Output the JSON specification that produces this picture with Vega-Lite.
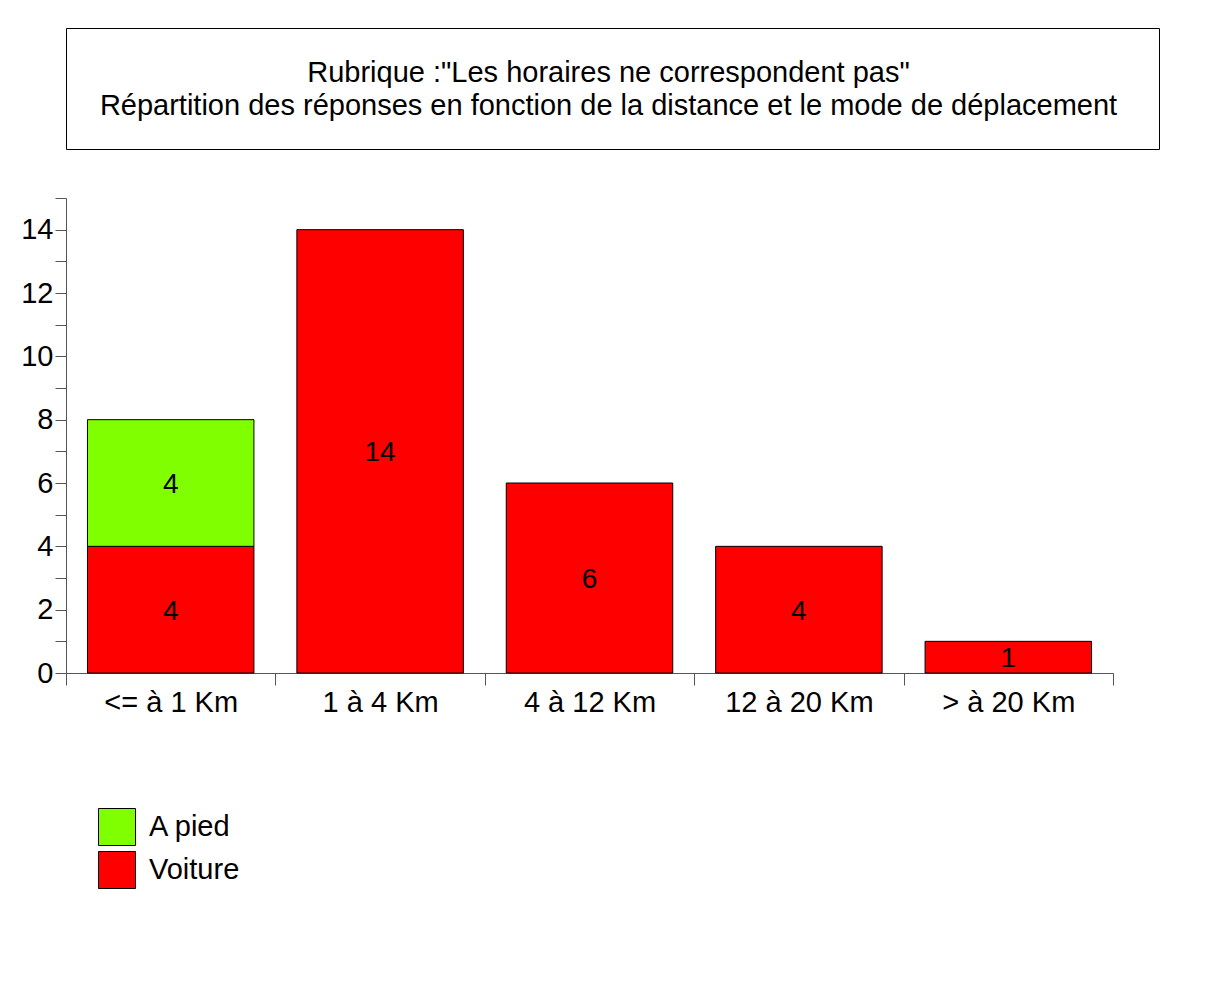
{
  "$schema": "https://vega.github.io/schema/vega-lite/v6.json",
  "padding": {"left": 20, "top": 27, "right": 5, "bottom": 5},
  "spacing": 47,
  "config": {
    "font": "Liberation Sans",
    "text": {"font": "Liberation Sans"},
    "axis": {"labelFont": "Liberation Sans", "titleFont": "Liberation Sans"},
    "legend": {"labelFont": "Liberation Sans"}
  },
  "resolve": {"legend": {"color": "independent"}},
  "vconcat": [
    {
      "width": 1093,
      "height": 121,
      "view": {"stroke": "black", "strokeWidth": 1},
      "data": {"values": [{"t": "Rubrique :\"Les horaires ne correspondent pas\"\nRépartition des réponses en fonction de la distance et le mode de déplacement"}]},
      "mark": {"type": "text", "fontSize": 29, "lineBreak": "\n", "lineHeight": 33, "baseline": "middle", "align": "center", "dx": -4, "dy": -16, "color": "black"},
      "encoding": {"text": {"field": "t", "type": "nominal"}}
    },
    {
      "width": 1047,
      "height": 475,
      "view": {"stroke": null},
      "data": {"values": [
        {"dist": "<= à 1 Km", "mode": "Voiture", "n": 4},
        {"dist": "<= à 1 Km", "mode": "A pied", "n": 4},
        {"dist": "1 à 4 Km", "mode": "Voiture", "n": 14},
        {"dist": "4 à 12 Km", "mode": "Voiture", "n": 6},
        {"dist": "12 à 20 Km", "mode": "Voiture", "n": 4},
        {"dist": "> à 20 Km", "mode": "Voiture", "n": 1}
      ]},
      "encoding": {
        "x": {
          "field": "dist", "type": "nominal", "sort": null,
          "scale": {"paddingInner": 0, "paddingOuter": 0},
          "axis": {"title": null, "labelAngle": 0, "labelFontSize": 29, "labelColor": "black", "labelPadding": 3,
                   "tickBand": "extent", "tickSize": 12, "tickColor": "#555", "domainColor": "#555", "grid": false}
        },
        "y": {
          "field": "n", "type": "quantitative", "stack": "zero",
          "scale": {"domain": [0, 15], "nice": false},
          "axis": {"title": null, "values": [0,1,2,3,4,5,6,7,8,9,10,11,12,13,14,15],
                   "labelExpr": "datum.value % 2 == 0 ? datum.label : ''",
                   "labelFontSize": 29, "labelColor": "black", "labelPadding": 2, "tickSize": 11,
                   "tickColor": "#555", "domainColor": "#555", "grid": false}
        },
        "order": {"field": "mode", "sort": "descending"}
      },
      "layer": [
        {
          "mark": {"type": "bar", "stroke": "black", "strokeWidth": 1, "width": {"band": 0.795}},
          "encoding": {
            "color": {
              "field": "mode", "type": "nominal",
              "scale": {"domain": ["A pied", "Voiture"], "range": ["#80FF00", "#FF0000"]},
              "legend": {"title": null, "orient": "none", "legendX": 32, "legendY": 610,
                         "symbolType": "square", "symbolSize": 1369, "symbolStrokeColor": "black",
                         "symbolStrokeWidth": 1, "symbolOpacity": 1, "labelFontSize": 29, "labelColor": "black",
                         "labelOffset": 13, "rowPadding": 1, "padding": 0}
            }
          }
        },
        {
          "mark": {"type": "text", "fontSize": 28, "color": "black", "baseline": "middle", "dy": 2},
          "encoding": {
            "y": {"field": "n", "type": "quantitative", "stack": "zero", "bandPosition": 0.5},
            "text": {"field": "n", "type": "quantitative"}
          }
        }
      ]
    }
  ]
}
